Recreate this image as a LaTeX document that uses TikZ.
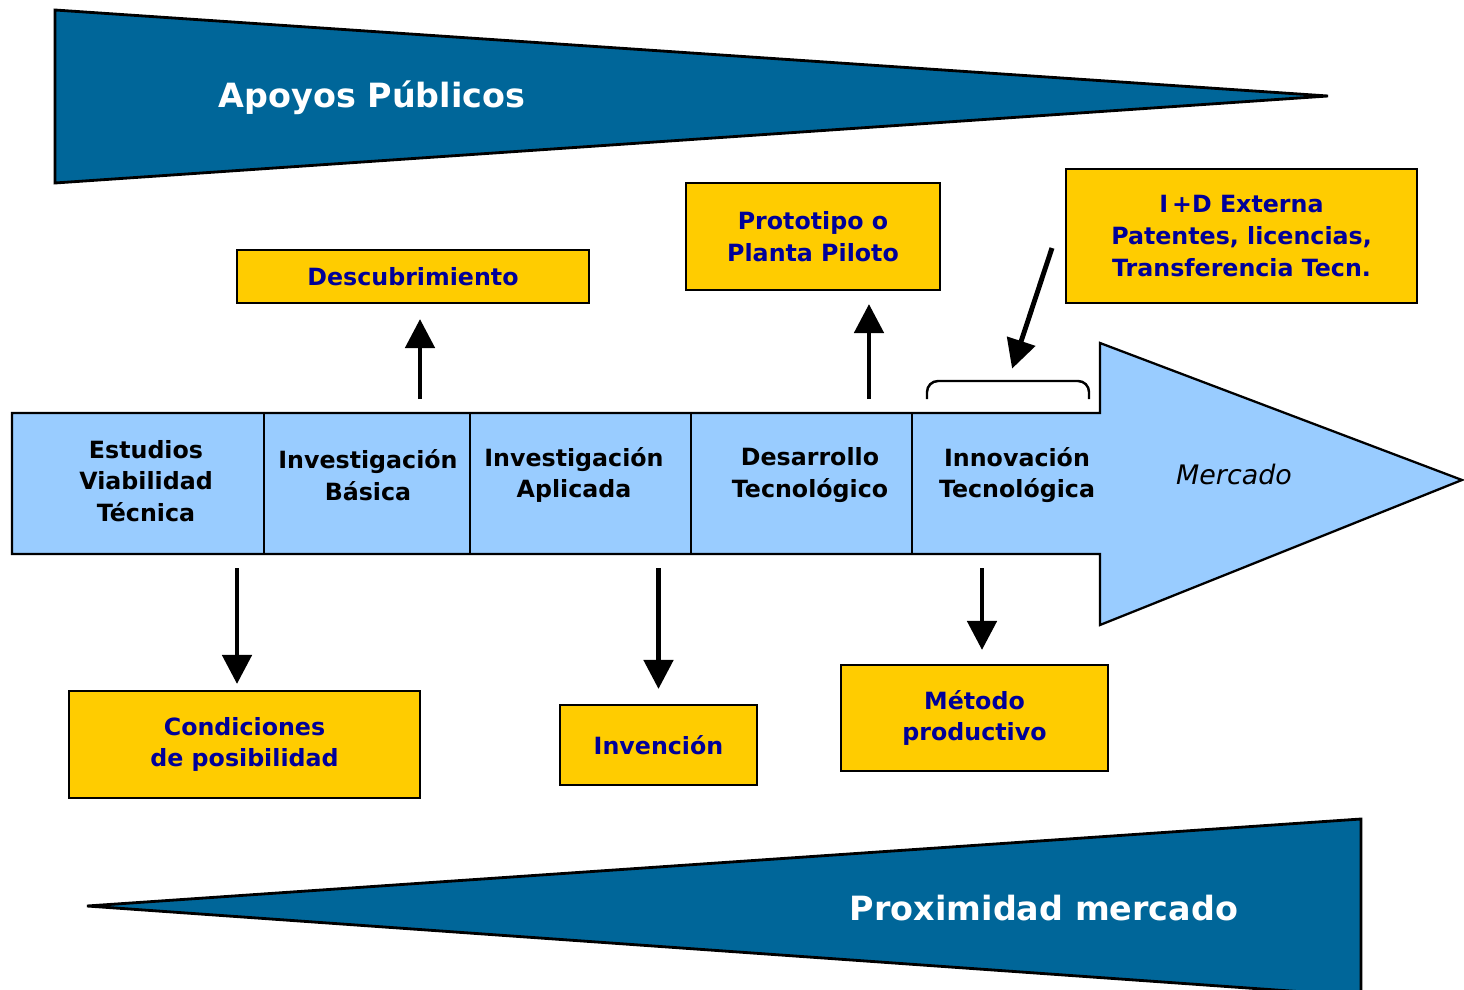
\documentclass[tikz,border=0pt]{standalone}
\usepackage{fontspec}
\setmainfont{DejaVu Sans}
\usepackage{tikz}
\usetikzlibrary{calc}
\usetikzlibrary{arrows.meta}
\definecolor{bandcolor}{RGB}{0, 102, 153}
\definecolor{stagecolor}{RGB}{153, 204, 255}
\definecolor{resultcolor}{RGB}{255, 204, 0}
\definecolor{labelcolor}{RGB}{0, 0, 153}
\tikzstyle{band} = [draw=black, line width=1.6pt, fill=bandcolor, line join=miter]
\tikzstyle{bandtext} = [white, font=\bfseries\fontsize{19}{23}\selectfont]
\tikzstyle{stage} = [inner sep=0pt, align=center, font=\bfseries\fontsize{13.5}{18}\selectfont]
\tikzstyle{result} = [draw=black, line width=1.2pt, fill=resultcolor, inner sep=0pt, align=center, text=labelcolor, font=\bfseries\fontsize{13.5}{18}\selectfont]
\tikzstyle{flow} = [-{Triangle[length=0.58cm, width=0.58cm]}, line width=2.8pt]
\begin{document}
\begin{tikzpicture}[x=0.02cm, y=-0.02cm]
		\useasboundingbox (0,0) rectangle (1464,990);
		
		%
		% Bands
		\draw [band] (55,10) -- (1328,96) -- (55,183) -- cycle;
		\node [bandtext] (apoyos) at (372,98) {Apoyos Públicos};
		\draw [band] (87,906) -- (1361,819) -- (1361,996) -- cycle;
		\node [bandtext] (proximidad) at (1044,908) {Proximidad mercado};
		
		%
		% Main arrow with the stages
		\draw [line width=1.3pt, fill=stagecolor] (12,413) -- (1100,413) -- (1100,343) -- (1462,480) -- (1100,625) -- (1100,554) -- (12,554) -- cycle;
		\foreach \x in {264,470,691,912}
			\draw [line width=1.3pt] (\x,413) -- (\x,554);
		\coordinate (bodytop) at (0,413);
		\coordinate (bodybot) at (0,554);
		
		\node [stage] (estudios) at (146,481) {Estudios\\Viabilidad\\Técnica};
		\node [stage] (basica) at (368,475) {Investigación\\Básica};
		\node [stage] (aplicada) at (574,475) {Investigación\\Aplicada};
		\node [stage] (desarrollo) at (810,475) {Desarrollo\\Tecnológico};
		\node [stage] (innovacion) at (1017,475) {Innovación\\Tecnológica};
		\node [font=\itshape\fontsize{15.3}{18}\selectfont] (mercado) at (1234,474) {Mercado};
		
		%
		% Results
		\node [result, minimum width=7.04cm, minimum height=1.06cm] (descub) at (413,276.5) {Descubrimiento};
		\node [result, minimum width=5.08cm, minimum height=2.14cm] (proto) at (813,236.5) {Prototipo o\\Planta Piloto};
		\node [result, minimum width=7.02cm, minimum height=2.68cm] (idext) at (1241.5,236) {I\,+D Externa\\Patentes, licencias,\\Transferencia Tecn.};
		\node [result, minimum width=7.02cm, minimum height=2.14cm] (condic) at (244.5,744.5) {Condiciones\\de posibilidad};
		\node [result, minimum width=3.94cm, minimum height=1.6cm] (invenc) at (658.5,745) {Invención};
		\node [result, minimum width=5.34cm, minimum height=2.12cm] (metodo) at (974.5,718) {Método\\productivo};
		
		%
		% Connectors
		\draw [flow, shorten <=0.28cm, shorten >=0.3cm] ([xshift=0.14cm]descub.south |- bodytop) -- ([xshift=0.14cm]descub.south);
		\draw [flow, shorten <=0.28cm, shorten >=0.26cm] ([xshift=1.12cm]proto.south |- bodytop) -- ([xshift=1.12cm]proto.south);
		\draw [flow, shorten <=0.28cm, shorten >=0.12cm] ([xshift=-0.15cm]condic.north |- bodybot) -- ([xshift=-0.15cm]condic.north);
		\draw [flow, shorten <=0.28cm, shorten >=0.3cm] (invenc.north |- bodybot) -- (invenc.north);
		\draw [flow, shorten <=0.28cm, shorten >=0.28cm] ([xshift=0.15cm]metodo.north |- bodybot) -- ([xshift=0.15cm]metodo.north);
		
		% Bracket over the innovation stage
		\draw [line width=1.4pt, rounded corners=0.22cm] (927,399) -- (927,381) -- (1089,381) -- (1089,399);
		\coordinate (brk) at (1008,381);
		\coordinate (idin) at ([shift={(-13,12)}]idext.west);
		\draw [flow, shorten >=0.26cm] (idin) -- (brk);
	
	\end{tikzpicture}
\end{document}
